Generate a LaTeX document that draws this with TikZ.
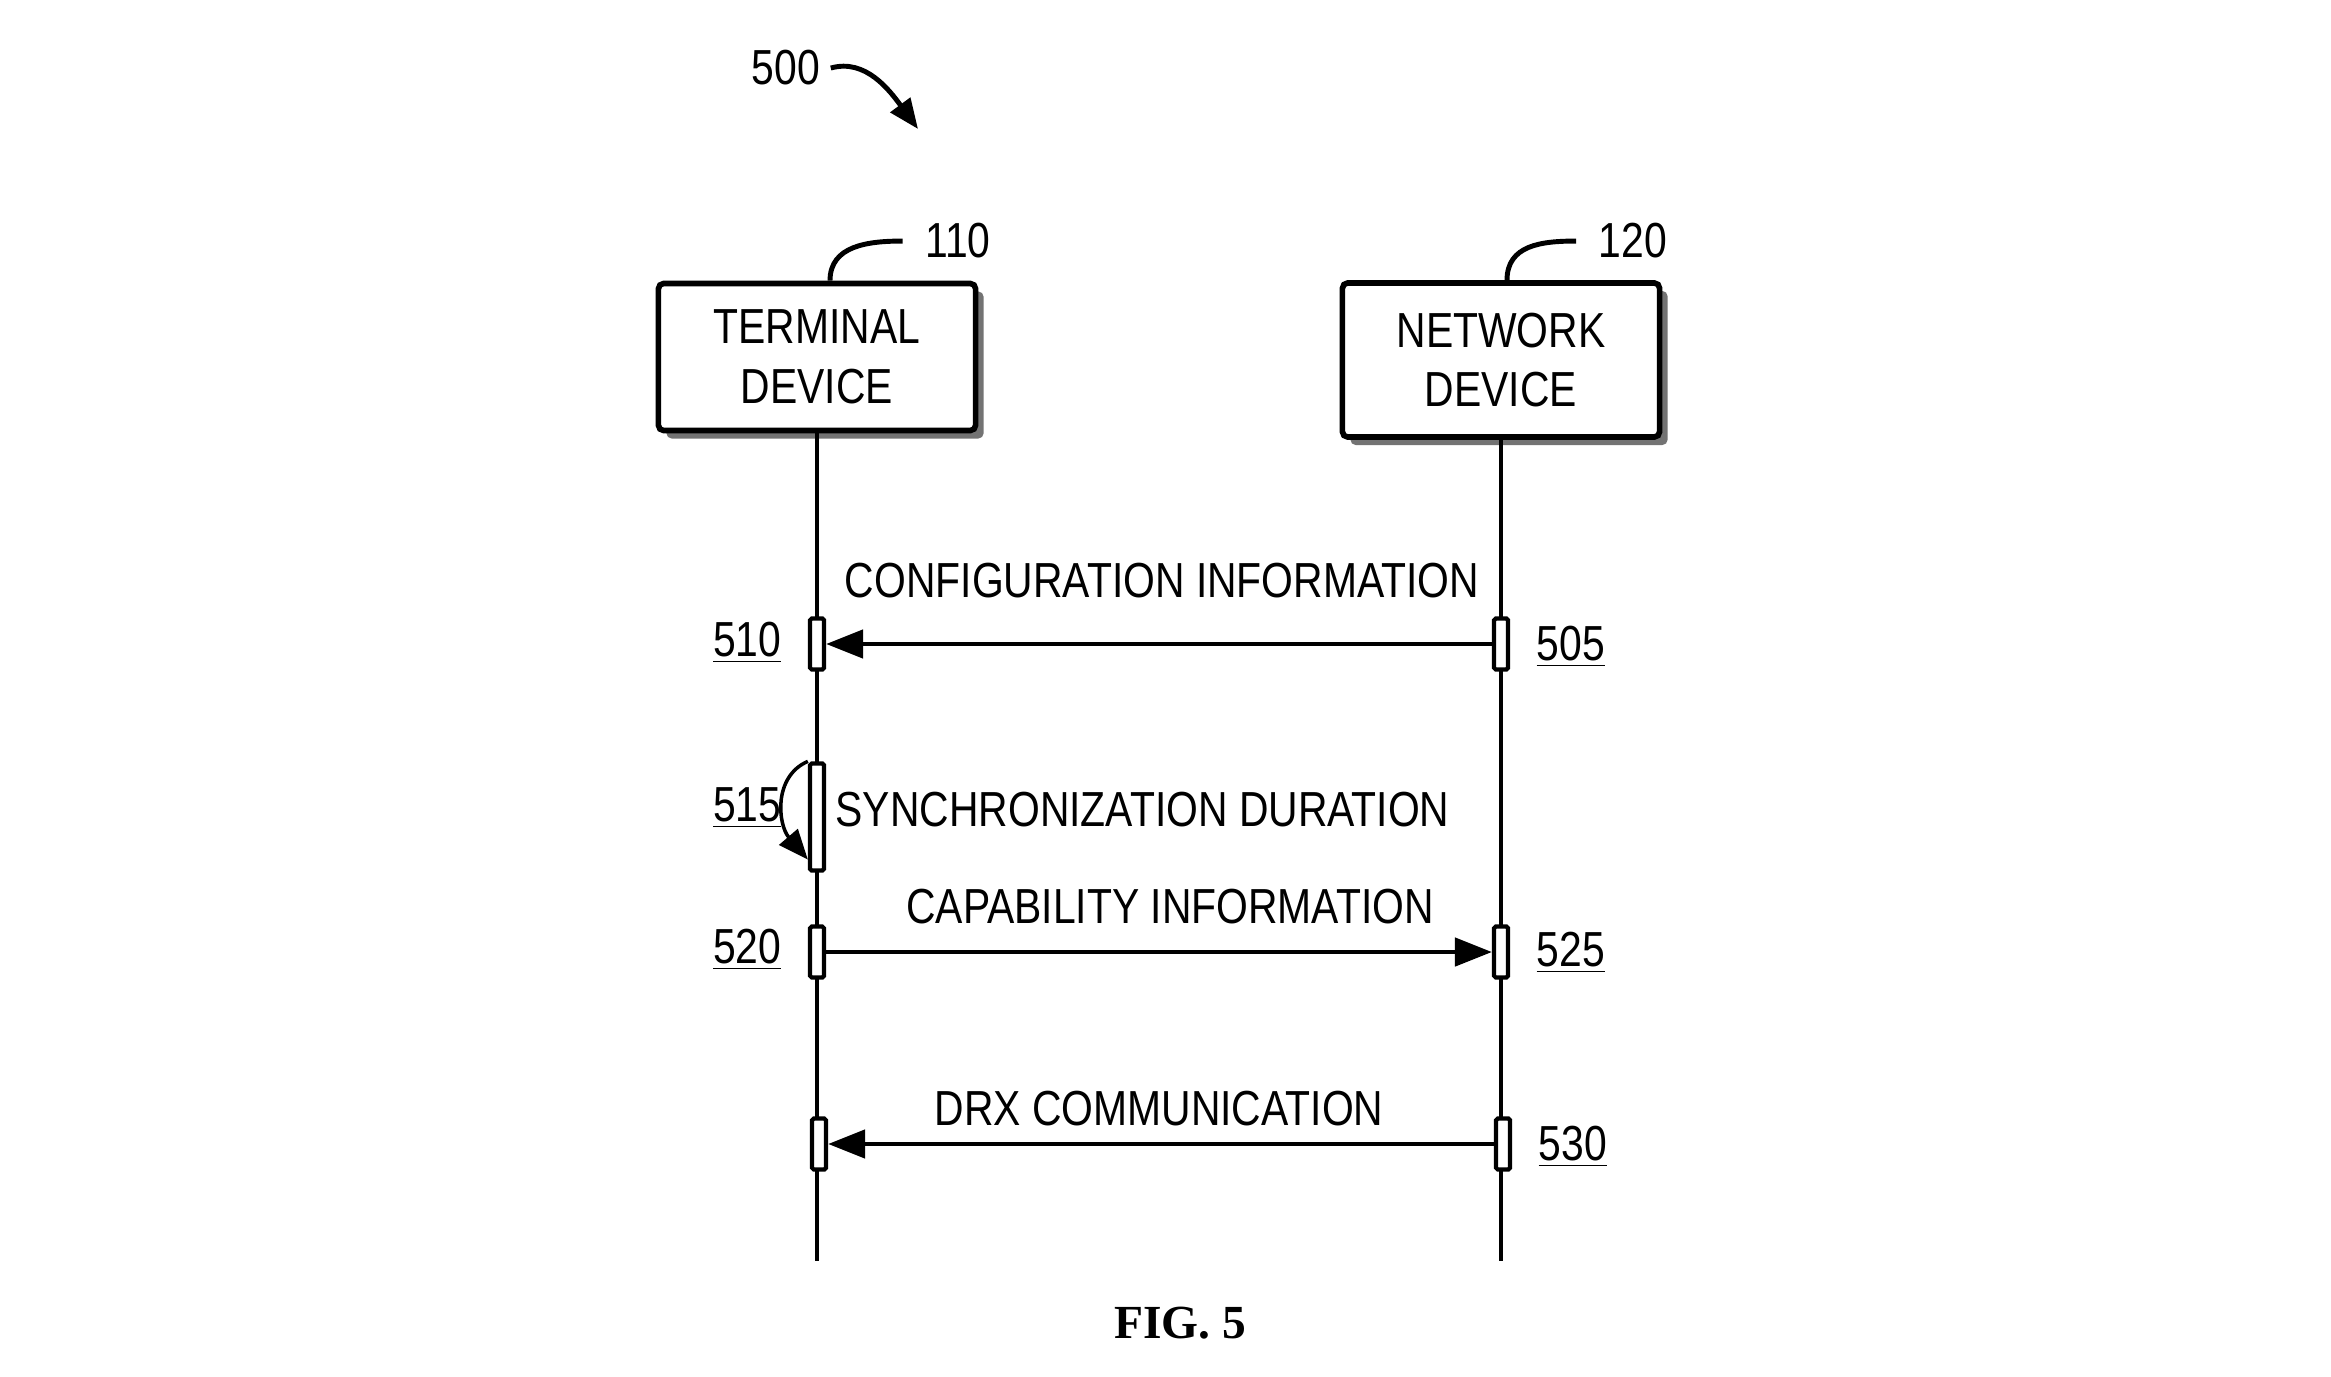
\documentclass[tikz,border=0pt]{standalone}
\usepackage{fontspec}
\setmainfont[FakeStretch=0.83]{Liberation Sans}
\newfontfamily\figfont{Liberation Serif}
\usetikzlibrary{arrows.meta,shadows}

\tikzset{
  device/.style={draw, line width=1.6pt, rounded corners=1.5pt, fill=white, align=center,
    minimum width=3.17cm, inner sep=0pt,
    drop shadow={shadow xshift=0.08cm, shadow yshift=-0.08cm, fill=black!55, opacity=1}},
  life/.style={line width=1.35pt},
  bar/.style={draw, fill=white, line width=1.2pt, rounded corners=0.5pt,
    minimum width=0.14cm, minimum height=0.51cm, inner sep=0pt},
  msg/.style={line width=1.35pt, -{Triangle[length=0.37cm,width=0.28cm]}},
  lead/.style={line width=1.4pt},
  txt/.style={inner sep=0pt, anchor=base},
  num/.style={inner sep=0.22cm, anchor=base}
}

\begin{document}
\begin{tikzpicture}[x=0.01cm, y=-0.01cm, font=\fontsize{14}{17}\selectfont]
        \useasboundingbox (0,0) rectangle (2331,1376);

        \node[device, minimum height=1.47cm] (term) at (817,357) {TERMINAL\\DEVICE};
        \node[device, minimum height=1.54cm] (netw) at (1501,360) {NETWORK\\DEVICE};
        \coordinate (tend) at (817,1261);
        \coordinate (nend) at (1501,1261);
        \draw[life] (term) -- (tend);
        \draw[life] (netw) -- (nend);

        \node[bar] (b510) at (817,644) {};
        \node[bar] (b505) at (1501,644) {};
        \node[bar, minimum height=1.07cm] (b515) at (817,817) {};
        \node[bar] (b520) at (817,952) {};
        \node[bar] (b525) at (1501,952) {};
        \node[bar] (bdrx) at (819,1144) {};
        \node[bar] (b530) at (1503,1144) {};

        \draw[msg] (b505) -- (b510);
        \draw[msg] (b520) -- (b525);
        \draw[msg] (b530) -- (bdrx);
        \draw[line width=1pt, -{Triangle[length=0.3cm,width=0.24cm]}] (b515.north west)
            .. controls +(-35,15) and +(-30,-35) .. ([yshift=0.13cm]b515.south west);

        \node[txt] (tconf) at (1162,597) {CONFIGURATION INFORMATION};
        \node[txt, anchor=base west] (tsync) at (835,826) {SYNCHRONIZATION DURATION};
        \node[txt] (tcap) at (1170,923) {CAPABILITY INFORMATION};
        \node[txt] (tdrx) at (1159,1125) {DRX COMMUNICATION};

        \node[txt, anchor=base east] (l510) at (782,656) {\underline{510}};
        \node[txt, anchor=base east] (l515) at (782,821) {\underline{515}};
        \node[txt, anchor=base east] (l520) at (782,963) {\underline{520}};
        \node[txt, anchor=base west] (l505) at (1536,660) {\underline{505}};
        \node[txt, anchor=base west] (l525) at (1536,966) {\underline{525}};
        \node[txt, anchor=base west] (l530) at (1538,1160) {\underline{530}};

        \node[num] (l110) at (958,258) {110};
        \node[num] (l120) at (1633,258) {120};
        \node[num, inner sep=0.1cm] (l500) at (786,85) {500};
        \coordinate (a500) at (918,129);
        \draw[lead] ([xshift=0.13cm]term.north) .. controls +(0,-35) and +(-35,0) .. (l110.west);
        \draw[lead] ([xshift=0.06cm]netw.north) .. controls +(0,-35) and +(-35,0) .. (l120.west);
        \draw[lead, -{Triangle[length=0.3cm,width=0.24cm]}] (l500.east)
            .. controls +(35,-10) and +(-28,-38) .. (a500);

        \node[txt, font=\figfont\bfseries\fontsize{13.5}{16}\selectfont] (fig) at (1180,1338) {FIG. 5};
\end{tikzpicture}
\end{document}
